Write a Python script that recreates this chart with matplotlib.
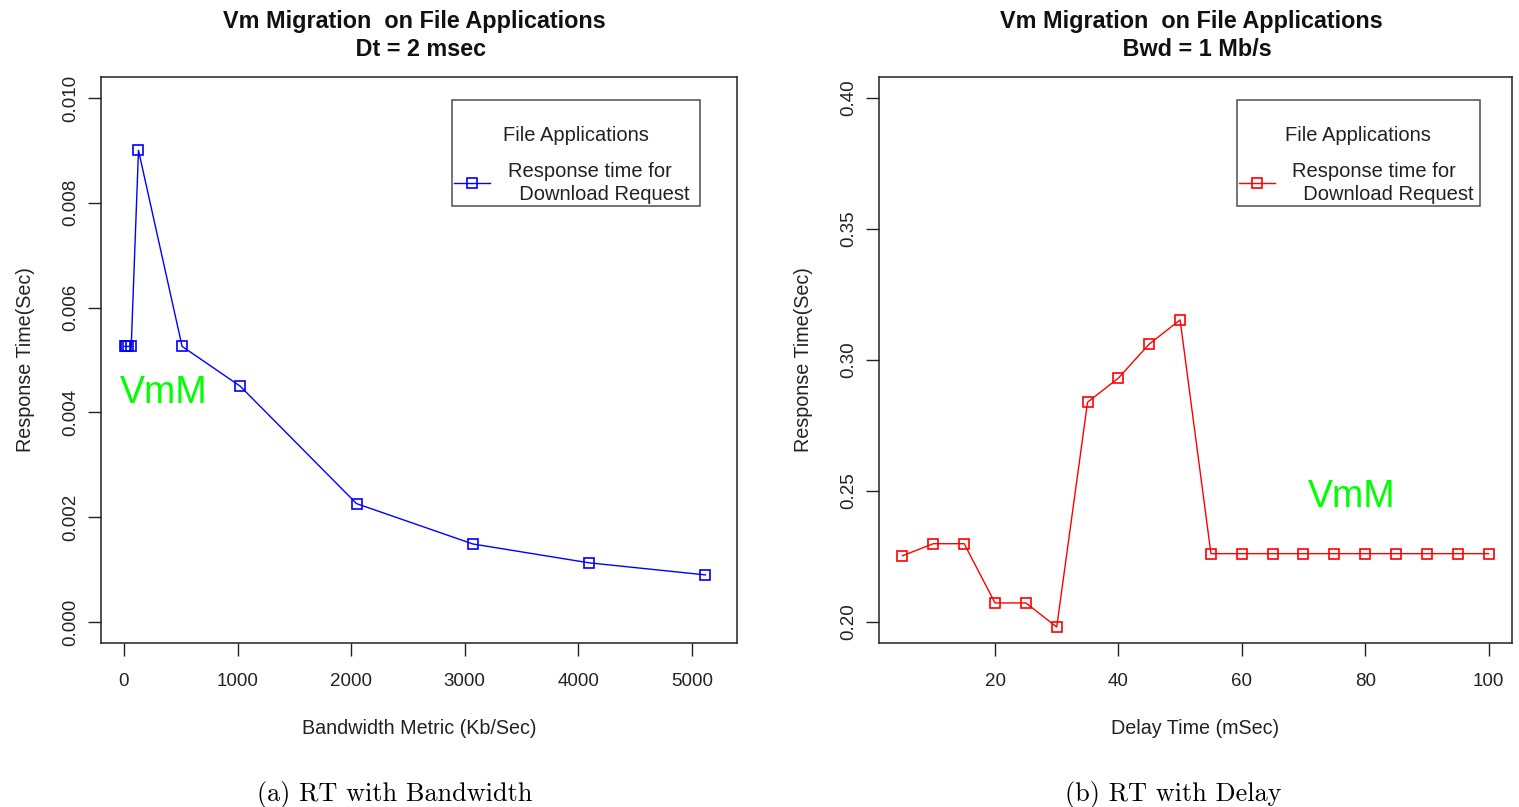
import matplotlib
matplotlib.use("Agg")
import matplotlib.pyplot as plt
from matplotlib.ticker import FixedLocator, FuncFormatter
from matplotlib.offsetbox import DrawingArea

# Bandwidth sweep (Dt = 2 msec)
bandwidth = [8, 16, 32, 64, 128, 512, 1024, 2048, 3072, 4096, 5120]
rt_bandwidth = [0.00526, 0.00526, 0.00526, 0.00526, 0.0090, 0.00526,
                0.00450, 0.00226, 0.00149, 0.00113, 0.00090]

# Delay sweep (Bwd = 1 Mb/s)
delay = [5, 10, 15, 20, 25, 30, 35, 40, 45, 50, 55, 60, 65, 70, 75, 80, 85, 90, 95, 100]
rt_delay = [0.2253, 0.2299, 0.2299, 0.2073, 0.2073, 0.1981, 0.2839, 0.2931, 0.3061, 0.3153,
            0.2261, 0.2261, 0.2261, 0.2261, 0.2261, 0.2261, 0.2261, 0.2261, 0.2261, 0.2261]

x_ticks_bw = [0, 1000, 2000, 3000, 4000, 5000]
y_ticks_bw = [0.000, 0.002, 0.004, 0.006, 0.008, 0.010]
x_ticks_dl = [20, 40, 60, 80, 100]
y_ticks_dl = [0.20, 0.25, 0.30, 0.35, 0.40]

SANS = ["Liberation Sans", "DejaVu Sans"]
plt.rcParams["font.family"] = SANS

fig = plt.figure(figsize=(15.19, 8.07), dpi=100)
ax1 = fig.add_axes([0.0665, 0.2032, 0.4185, 0.7014])
ax2 = fig.add_axes([0.5787, 0.2032, 0.4167, 0.7014])

panels = [
    dict(ax=ax1, x=bandwidth, y=rt_bandwidth, color="#0000FF",
         title="Vm Migration  on File Applications \n Dt = 2 msec",
         xlabel="Bandwidth Metric (Kb/Sec)", xticks=x_ticks_bw, yticks=y_ticks_bw,
         xlim=(-202, 5396), ylim=(-0.0004, 0.0104), yfmt="{:.3f}",
         vmm=(0.030, 0.442), leg=(0.552, 0.777, 0.39, 0.182),
         caption="(a) RT with Bandwidth", cap_x=0.260),
    dict(ax=ax2, x=delay, y=rt_delay, color="#FF0000",
         title="Vm Migration  on File Applications \n Bwd = 1 Mb/s",
         xlabel="Delay Time (mSec)", xticks=x_ticks_dl, yticks=y_ticks_dl,
         xlim=(1.2, 103.8), ylim=(0.192, 0.408), yfmt="{:.2f}",
         vmm=(0.678, 0.258), leg=(0.565, 0.777, 0.384, 0.182),
         caption="(b) RT with Delay", cap_x=0.7722),
]

for p in panels:
    ax = p["ax"]
    ax.plot(p["x"], p["y"], color=p["color"], lw=1.0, marker="s", ms=6.5,
            mfc="none", mec=p["color"], mew=1.2,
            label="Response time for\n  Download Request")
    ax.set_xlim(*p["xlim"])
    ax.set_ylim(*p["ylim"])
    ax.xaxis.set_major_locator(FixedLocator(p["xticks"]))
    ax.yaxis.set_major_locator(FixedLocator(p["yticks"]))
    fmt = p["yfmt"]
    ax.yaxis.set_major_formatter(FuncFormatter(lambda v, _, f=fmt: f.format(v)))
    ax.tick_params(direction="out", length=9.5, width=1.0, labelsize=13.5,
                   colors="#222222")
    ax.tick_params(axis="y", pad=6.5)
    ax.tick_params(axis="x", pad=12)
    for lab in ax.get_yticklabels():
        lab.set_rotation(90)
        lab.set_va("center")
    for s in ax.spines.values():
        s.set_linewidth(1.1)
        s.set_color("#222222")
    ax.set_title(p["title"], fontsize=16.8, fontweight="bold", pad=15, color="#111111",
                 linespacing=1.3, x=0.498)
    ax.set_xlabel(p["xlabel"], fontsize=14.2, labelpad=21, color="#222222")
    ax.set_ylabel("Response Time(Sec)", fontsize=14.2, labelpad=19, color="#222222")
    ax.text(p["vmm"][0], p["vmm"][1], "VmM", transform=ax.transAxes, color="#00FF00",
            fontsize=27, ha="left", va="center")

    leg = ax.legend(loc="upper left", bbox_to_anchor=p["leg"], mode="expand",
                    title="File Applications", fontsize=14.5, title_fontsize=14.5,
                    frameon=True, fancybox=False, borderpad=0.1, labelspacing=0.2,
                    handlelength=1.8, handletextpad=0.87, borderaxespad=0.0)
    leg.get_frame().set_edgecolor("#222222")
    leg.get_frame().set_linewidth(1.1)
    leg.get_title().set_color("#222222")
    # extra room above the legend title, and a gap between title and entry
    leg._legend_box.get_children().insert(0, DrawingArea(1, 4.3))
    leg._legend_box.sep = 12.5
    for t in leg.get_texts():
        t.set_color("#222222")
        t.set_linespacing(1.25)

    fig.text(p["cap_x"], 1 - 795 / 807, p["caption"], family=["cmr10", "DejaVu Serif"],
             fontsize=18.9, ha="center", va="center")

fig.savefig("out.png", dpi=100, facecolor="white")
